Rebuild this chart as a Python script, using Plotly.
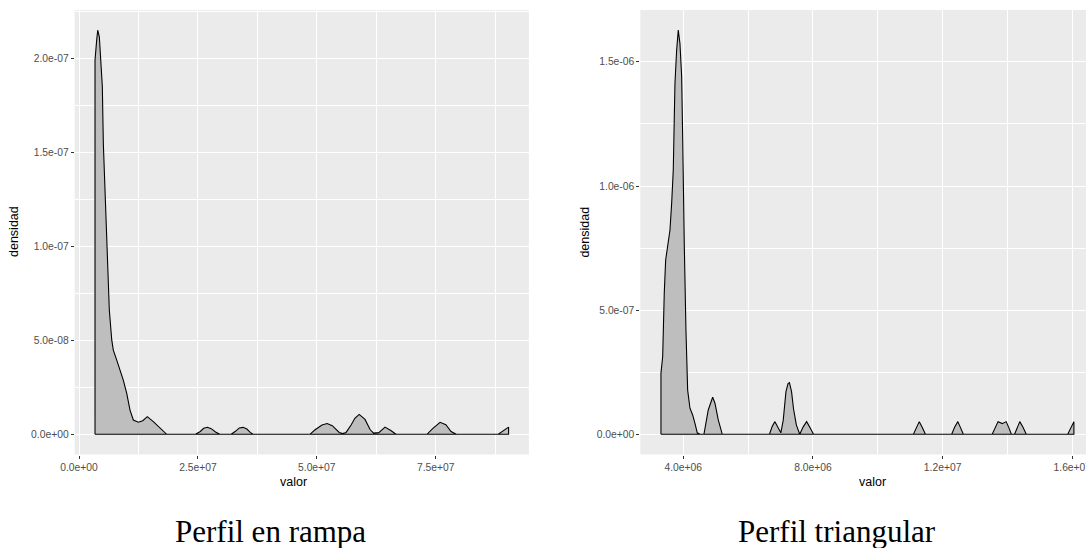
import plotly.graph_objects as go

# ---------------- data ----------------
rampa_valor = [3.36e6, 3.72e6, 3.93e6, 4.27e6, 4.63e6, 4.90e6, 5.11e6, 5.32e6, 5.53e6, 5.82e6,
               6.16e6, 6.37e6, 6.88e6, 7.21e6, 7.93e6, 8.62e6, 9.31e6, 1.003e7, 1.072e7, 1.142e7,
               1.247e7, 1.34e7, 1.436e7, 1.562e7, 1.703e7, 1.844e7,
               2.45e7, 2.55e7, 2.62e7, 2.70e7, 2.78e7, 2.87e7, 2.96e7,
               3.20e7, 3.29e7, 3.37e7, 3.45e7, 3.53e7, 3.60e7, 3.66e7,
               4.855e7, 4.964e7, 5.109e7, 5.217e7, 5.326e7, 5.471e7, 5.543e7, 5.616e7, 5.724e7,
               5.80e7, 5.891e7, 6.014e7, 6.123e7, 6.195e7, 6.304e7, 6.434e7, 6.556e7, 6.665e7,
               7.317e7, 7.447e7, 7.592e7, 7.714e7, 7.823e7, 7.932e7,
               8.816e7, 8.911e7, 9.033e7]
rampa_densidad = [1.99e-7, 2.10e-7, 2.15e-7, 2.115e-7, 1.99e-7, 1.85e-7, 1.548e-7, 1.406e-7, 1.193e-7, 9.98e-8,
                  7.85e-8, 6.61e-8, 5.02e-8, 4.48e-8, 3.95e-8, 3.42e-8, 2.88e-8, 2.18e-8, 1.29e-8, 7.6e-9,
                  6.4e-9, 7.2e-9, 9.4e-9, 6.7e-9, 3.2e-9, 0,
                  0, 1.5e-9, 3.2e-9, 3.7e-9, 3.0e-9, 1.2e-9, 0,
                  0, 1.6e-9, 3.4e-9, 3.7e-9, 2.8e-9, 1.0e-9, 0,
                  0, 2.4e-9, 4.9e-9, 5.7e-9, 4.6e-9, 1.0e-9, 0.4e-9, 1.0e-9, 5.1e-9,
                  8.5e-9, 1.06e-8, 7.9e-9, 2.4e-9, 0.6e-9, 0.9e-9, 3.8e-9, 2.0e-9, 0,
                  0, 3.3e-9, 6.4e-9, 5.1e-9, 1.5e-9, 0,
                  0, 1.5e-9, 3.8e-9]

triang_valor = [3.312e6, 3.365e6, 3.383e6, 3.414e6, 3.457e6, 3.537e6, 3.59e6, 3.642e6, 3.692e6, 3.722e6,
                3.744e6, 3.796e6, 3.846e6, 3.898e6, 3.951e6, 3.982e6, 4.0e6, 4.031e6, 4.083e6, 4.136e6,
                4.207e6, 4.290e6, 4.361e6, 4.432e6, 4.515e6,
                4.638e6, 4.771e6, 4.907e6, 4.978e6, 5.08e6, 5.203e6,
                6.659e6, 6.745e6, 6.828e6, 6.902e6,
                7.010e6, 7.084e6, 7.168e6, 7.232e6, 7.275e6, 7.340e6, 7.402e6, 7.488e6, 7.593e6,
                7.70e6, 7.806e6, 7.913e6, 8.018e6,
                1.110e7, 1.119e7, 1.128e7, 1.137e7, 1.147e7,
                1.228e7, 1.237e7, 1.247e7, 1.255e7, 1.264e7,
                1.353e7, 1.362e7, 1.371e7, 1.384e7, 1.396e7, 1.404e7, 1.412e7,
                1.422e7, 1.430e7, 1.438e7, 1.448e7, 1.458e7,
                1.586e7, 1.596e7, 1.605e7]
triang_densidad = [2.456e-7, 3.12e-7, 4.73e-7, 5.68e-7, 7.02e-7, 7.82e-7, 8.22e-7, 9.30e-7, 1.064e-6, 1.265e-6,
                   1.413e-6, 1.547e-6, 1.628e-6, 1.574e-6, 1.440e-6, 1.198e-6, 9.57e-7, 7.69e-7, 4.20e-7, 1.78e-7,
                   1.05e-7, 7.8e-8, 4.4e-8, 6e-9, 0,
                   0, 9.8e-8, 1.49e-7, 1.25e-7, 5.8e-8, 0,
                   0, 3.2e-8, 5.1e-8, 3.2e-8,
                   6e-9, 5.7e-8, 1.72e-7, 2.04e-7, 2.08e-7, 1.72e-7, 1.02e-7, 3.8e-8, 0,
                   3.0e-8, 5.1e-8, 2.6e-8, 0,
                   0, 2.8e-8, 5.1e-8, 2.8e-8, 0,
                   0, 2.8e-8, 5.1e-8, 2.8e-8, 0,
                   0, 2.8e-8, 5.1e-8, 4.3e-8, 5.1e-8, 2.8e-8, 0,
                   0, 2.8e-8, 5.1e-8, 2.8e-8, 0,
                   0, 2.8e-8, 5.1e-8]

rampa_xticks = [0, 2.5e7, 5.0e7, 7.5e7]
rampa_xlabels = ["0.0e+00", "2.5e+07", "5.0e+07", "7.5e+07"]
rampa_xminor = [1.25e7, 3.75e7, 6.25e7, 8.75e7]
rampa_yticks = [0, 5e-8, 1e-7, 1.5e-7, 2e-7]
rampa_ylabels = ["0.0e+00", "5.0e-08", "1.0e-07", "1.5e-07", "2.0e-07"]
rampa_yminor = [2.5e-8, 7.5e-8, 1.25e-7, 1.75e-7, 2.25e-7]

triang_xticks = [4e6, 8e6, 1.2e7, 1.6e7]
triang_xlabels = ["4.0e+06", "8.0e+06", "1.2e+07", "1.6e+07"]
triang_xminor = [6e6, 1e7, 1.4e7]
triang_yticks = [0, 5e-7, 1e-6, 1.5e-6]
triang_ylabels = ["0.0e+00", "5.0e-07", "1.0e-06", "1.5e-06"]
triang_yminor = [2.5e-7, 7.5e-7, 1.25e-6]

captions = ["Perfil en rampa", "Perfil triangular"]

# ---------------- figure ----------------
W, H = 1086, 548
FILL = "#BEBEBE"
PANEL = "#EBEBEB"


def closed(xs, ys):
    # polygon: baseline -> curve -> baseline -> back to start (full outline)
    return [xs[0]] + list(xs) + [xs[-1], xs[0]], [0] + list(ys) + [0, 0]


fig = go.Figure()
rx, ry = closed(rampa_valor, rampa_densidad)
fig.add_trace(go.Scatter(x=rx, y=ry, mode="lines", fill="toself", fillcolor=FILL,
                         line=dict(color="black", width=1.1), xaxis="x", yaxis="y",
                         hoverinfo="skip"))
tx, ty = closed(triang_valor, triang_densidad)
fig.add_trace(go.Scatter(x=tx, y=ty, mode="lines", fill="toself", fillcolor=FILL,
                         line=dict(color="black", width=1.1), xaxis="x2", yaxis="y2",
                         hoverinfo="skip"))

tickfont = dict(family="Liberation Sans, Arial, sans-serif", size=10.3, color="#4D4D4D")


def axis(domain, rng, tv, tt, minor_vals, anchor):
    return dict(domain=domain, range=rng, tickmode="array", tickvals=tv, ticktext=tt,
                showgrid=True, gridcolor="white", gridwidth=1.1, zeroline=False,
                showline=False, ticks="outside", ticklen=3, tickwidth=1, tickcolor="#333333",
                tickfont=tickfont, anchor=anchor, fixedrange=True, ticklabeloverflow="allow",
                automargin=False,
                minor=dict(tickmode="array", tickvals=minor_vals, showgrid=True,
                           gridcolor="white", gridwidth=0.6, ticks=""))


ydom = [(H - 454.5) / H, (H - 10) / H]
fig.update_layout(
    width=W, height=H, margin=dict(l=0, r=0, t=0, b=0, autoexpand=False),
    paper_bgcolor="white", plot_bgcolor=PANEL, showlegend=False,
    xaxis=axis([74.7 / W, 528.9 / W], [-0.91e6, 9.46e7], rampa_xticks, rampa_xlabels, rampa_xminor, "y"),
    yaxis=axis(ydom, [-1.075e-8, 2.2575e-7], rampa_yticks, rampa_ylabels, rampa_yminor, "x"),
    xaxis2=axis([640.3 / W, 1.0], [2.675e6, 1.6423e7], triang_xticks, triang_xlabels, triang_xminor, "y2"),
    yaxis2=axis(ydom, [-8.14e-8, 1.709e-6], triang_yticks, triang_ylabels, triang_yminor, "x2"),
)

titlefont = dict(family="Liberation Sans, Arial, sans-serif", size=12.5, color="black")
capfont = dict(family="Liberation Serif, Times New Roman, serif", size=31, color="black")
ann = [
    dict(text="valor", x=293.3 / W, y=(H - 482.3) / H, font=titlefont),
    dict(text="valor", x=872.8 / W, y=(H - 482.3) / H, font=titlefont),
    dict(text="densidad", x=14 / W, y=(H - 232) / H, font=titlefont, textangle=-90),
    dict(text="densidad", x=584.6 / W, y=(H - 232) / H, font=titlefont, textangle=-90),
    dict(text=captions[0], x=270.8 / W, y=(H - 531) / H, font=capfont),
    dict(text=captions[1], x=837 / W, y=(H - 531) / H, font=capfont),
]
for a in ann:
    a.update(xref="paper", yref="paper", showarrow=False, xanchor="center", yanchor="middle")
fig.update_layout(annotations=ann)

fig.write_html("out.html", config={"displayModeBar": False},
               post_script="document.body.style.margin='0';document.body.style.overflow='hidden';")
